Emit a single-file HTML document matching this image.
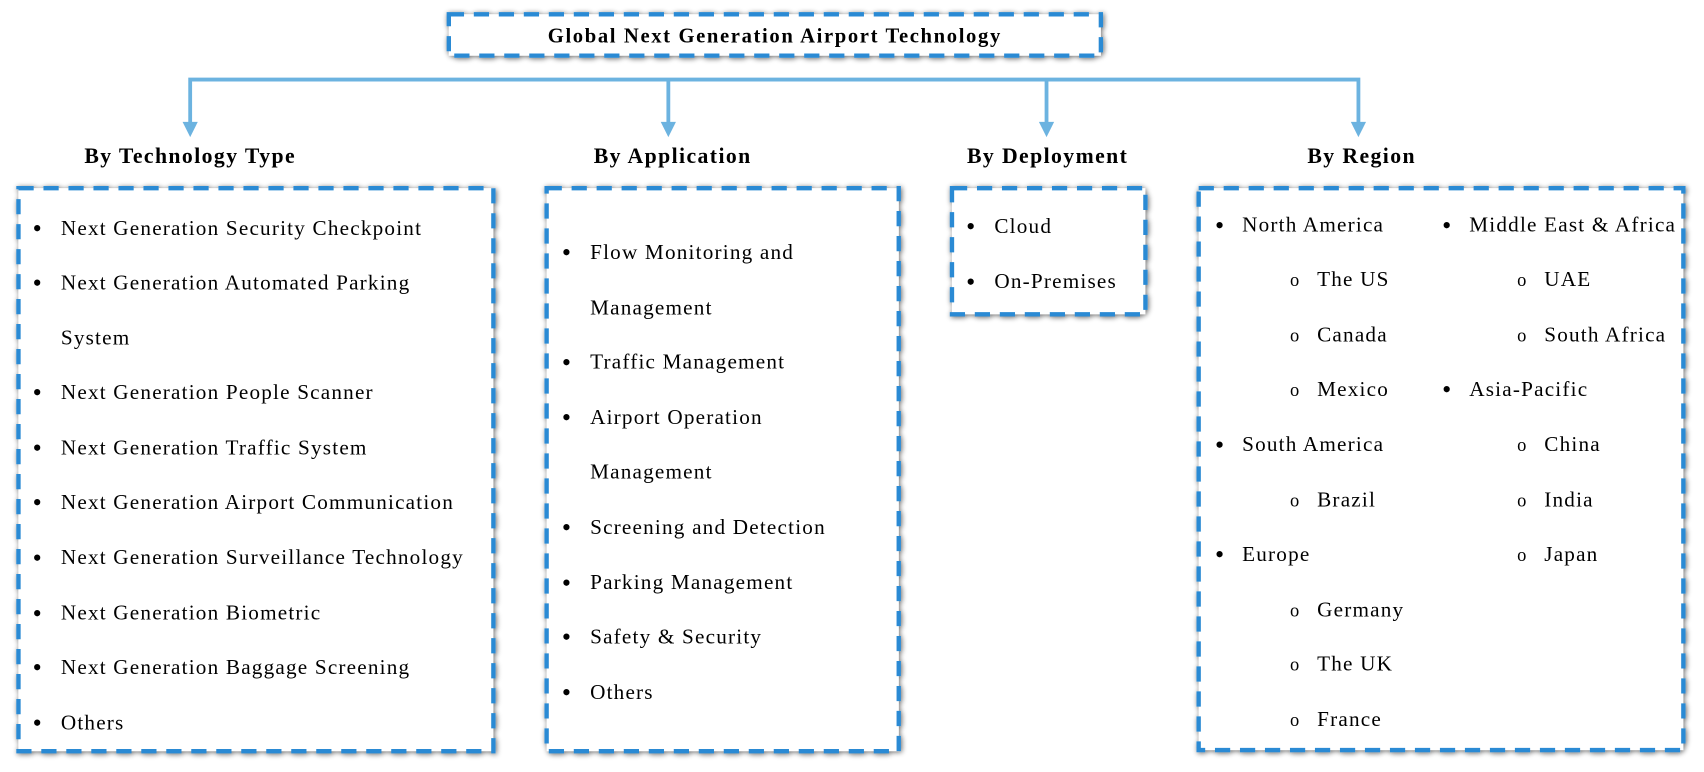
<!DOCTYPE html>
<html><head><meta charset="utf-8"><style>
html,body{margin:0;padding:0;background:#fff;}
svg{display:block}
text{font-family:"Liberation Serif",serif;fill:#000}
.h{font-weight:bold;font-size:20px;text-anchor:middle;letter-spacing:1.3px}
.t{font-size:19.5px;letter-spacing:1.1px}
.b{font-size:24px;letter-spacing:0}
.o{font-size:17px;letter-spacing:0}
</style></head><body>
<svg width="1704" height="772" viewBox="0 0 1568 710" xmlns="http://www.w3.org/2000/svg">
<defs>
<filter id="sh" x="-5%" y="-5%" width="110%" height="110%"><feGaussianBlur in="SourceAlpha" stdDeviation="2.5"/><feOffset dx="1" dy="1"/><feComponentTransfer><feFuncA type="linear" slope="0.6"/></feComponentTransfer><feMerge><feMergeNode/><feMergeNode in="SourceGraphic"/></feMerge></filter>
</defs>
<g fill="#fff" stroke="#2a8ad4" stroke-width="4" stroke-dasharray="14 9" filter="url(#sh)">
<rect x="413" y="13" width="600" height="38"/>
<rect x="17" y="173" width="437" height="518"/>
<rect x="503" y="173" width="324" height="518"/>
<rect x="876" y="173" width="178" height="116"/>
<rect x="1103" y="173" width="446" height="517"/>
</g>
<g stroke="#6cb3e0" stroke-width="3.5" fill="none">
<path d="M175 115 V73 H1250 V115"/>
<path d="M615 73 V115"/><path d="M963 73 V115"/>
</g>
<g fill="#6cb3e0">
<path d="M168 112 H182 L175 126Z"/><path d="M608 112 H622 L615 126Z"/><path d="M956 112 H970 L963 126Z"/><path d="M1243 112 H1257 L1250 126Z"/>
</g>
<text class="h" x="713" y="39" style="font-size:19px;letter-spacing:1.5px">Global Next Generation Airport Technology</text>
<text class="h" x="175" y="150">By Technology Type</text>
<text class="h" x="619" y="150">By Application</text>
<text class="h" x="964" y="150">By Deployment</text>
<text class="h" x="1253" y="150">By Region</text>
<g class="t">
<text x="30" y="218" class="b">•</text><text x="56" y="216">Next Generation Security Checkpoint</text>
<text x="30" y="268" class="b">•</text><text x="56" y="266">Next Generation Automated Parking</text>
<text x="56" y="317">System</text>
<text x="30" y="369" class="b">•</text><text x="56" y="367">Next Generation People Scanner</text>
<text x="30" y="420" class="b">•</text><text x="56" y="418">Next Generation Traffic System</text>
<text x="30" y="470" class="b">•</text><text x="56" y="468">Next Generation Airport Communication</text>
<text x="30" y="521" class="b">•</text><text x="56" y="519">Next Generation Surveillance Technology</text>
<text x="30" y="572" class="b">•</text><text x="56" y="570">Next Generation Biometric</text>
<text x="30" y="622" class="b">•</text><text x="56" y="620">Next Generation Baggage Screening</text>
<text x="30" y="673" class="b">•</text><text x="56" y="671">Others</text>

<text x="517" y="240" class="b">•</text><text x="543" y="238">Flow Monitoring and</text>
<text x="543" y="289">Management</text>
<text x="517" y="341" class="b">•</text><text x="543" y="339">Traffic Management</text>
<text x="517" y="392" class="b">•</text><text x="543" y="390">Airport Operation</text>
<text x="543" y="440">Management</text>
<text x="517" y="493" class="b">•</text><text x="543" y="491">Screening and Detection</text>
<text x="517" y="544" class="b">•</text><text x="543" y="542">Parking Management</text>
<text x="517" y="594" class="b">•</text><text x="543" y="592">Safety &amp; Security</text>
<text x="517" y="645" class="b">•</text><text x="543" y="643">Others</text>

<text x="889" y="216" class="b">•</text><text x="915" y="214">Cloud</text>
<text x="889" y="267" class="b">•</text><text x="915" y="265">On-Premises</text>

<text x="1118" y="215" class="b">•</text><text x="1143" y="213">North America</text>
<text x="1187" y="263" class="o">o</text><text x="1212" y="263">The US</text>
<text x="1187" y="314" class="o">o</text><text x="1212" y="314">Canada</text>
<text x="1187" y="364" class="o">o</text><text x="1212" y="364">Mexico</text>
<text x="1118" y="417" class="b">•</text><text x="1143" y="415">South America</text>
<text x="1187" y="466" class="o">o</text><text x="1212" y="466">Brazil</text>
<text x="1118" y="518" class="b">•</text><text x="1143" y="516">Europe</text>
<text x="1187" y="567" class="o">o</text><text x="1212" y="567">Germany</text>
<text x="1187" y="617" class="o">o</text><text x="1212" y="617">The UK</text>
<text x="1187" y="668" class="o">o</text><text x="1212" y="668">France</text>

<text x="1327" y="215" class="b">•</text><text x="1352" y="213">Middle East &amp; Africa</text>
<text x="1396" y="263" class="o">o</text><text x="1421" y="263">UAE</text>
<text x="1396" y="314" class="o">o</text><text x="1421" y="314">South Africa</text>
<text x="1327" y="366" class="b">•</text><text x="1352" y="364">Asia-Pacific</text>
<text x="1396" y="415" class="o">o</text><text x="1421" y="415">China</text>
<text x="1396" y="466" class="o">o</text><text x="1421" y="466">India</text>
<text x="1396" y="516" class="o">o</text><text x="1421" y="516">Japan</text>
</g>
</svg>
</body></html>
